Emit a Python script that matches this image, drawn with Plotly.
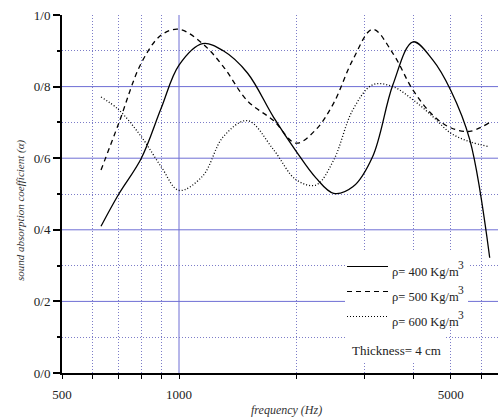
import math
import plotly.graph_objects as go

# ---- data ----
freq = [630, 700, 800, 900, 1000, 1150, 1300, 1500, 1750, 2000, 2250, 2500,
        2800, 3150, 3550, 4000, 4500, 5000, 5600, 6300]
rho400 = [0.41, 0.50, 0.60, 0.74, 0.86, 0.92, 0.90, 0.838, 0.715, 0.62, 0.545, 0.502,
          0.52, 0.605, 0.805, 0.925, 0.874, 0.79, 0.651, 0.322]
rho500 = [0.567, 0.698, 0.866, 0.944, 0.96, 0.92, 0.856, 0.76, 0.705, 0.642, 0.68, 0.754,
          0.875, 0.96, 0.893, 0.79, 0.72, 0.685, 0.675, 0.70]
rho600 = [0.771, 0.735, 0.66, 0.576, 0.51, 0.55, 0.66, 0.705, 0.624, 0.54, 0.525, 0.595,
          0.735, 0.805, 0.80, 0.763, 0.716, 0.67, 0.646, 0.632]

series_names = ["ρ= 400 Kg/m", "ρ= 500 Kg/m", "ρ= 600 Kg/m"]
unit_power = "3"
x_tick_vals = [500, 1000, 5000]
x_tick_text = ["500", "1000", "5000"]
x_minor_vals = [600, 700, 800, 900, 2000, 3000, 4000, 5000, 6000]
y_tick_vals = [0, 0.2, 0.4, 0.6, 0.8, 1.0]
y_tick_text = ["0/0", "0/2", "0/4", "0/6", "0/8", "1/0"]
y_minor_vals = [0.1, 0.3, 0.5, 0.7, 0.9]
y_solid_grid = [0.2, 0.4, 0.6, 0.8]
x_solid_grid = [1000]
thickness_text = "Thickness= 4 cm"
x_title = "frequency (Hz)"
y_title = "sound absorption coefficient (α)"

# ---- styling ----
W, H = 498, 419
L, R, T, B = 62, 0, 15, 46
PW, PH = W - L - R, H - T - B
PX_PER_DECADE = 388.7
x_range = [math.log10(500), math.log10(500) + PW / PX_PER_DECADE]

SOLID_GRID = "#6e6ed4"
DOT_GRID = "#7c7cc8"
DASHES = ["solid", "5px,4px", "1px,2px"]
serif = "Liberation Serif"


def px2paper(px, py):
    return (px - L) / PW, (H - B - py) / PH


fig = go.Figure()
for ys, nm, dash in zip([rho400, rho500, rho600], series_names, DASHES):
    fig.add_trace(go.Scatter(x=freq, y=ys, mode="lines", name=nm + unit_power,
                             line=dict(color="black", width=1.3, dash=dash,
                                       shape="spline", smoothing=1.0),
                             showlegend=False))

shapes = []
for yv in y_solid_grid:
    shapes.append(dict(type="line", xref="paper", yref="y", x0=0, x1=1, y0=yv, y1=yv,
                       line=dict(color=SOLID_GRID, width=1), layer="below"))
for xv in x_solid_grid:
    shapes.append(dict(type="line", xref="x", yref="paper", x0=xv, x1=xv, y0=0, y1=1,
                       line=dict(color=SOLID_GRID, width=1), layer="below"))

# legend boxes
bx0, by0 = px2paper(345, 326)
bx1, by1 = px2paper(468, 250)
shapes.append(dict(type="rect", xref="paper", yref="paper", x0=bx0, x1=bx1, y0=by0, y1=by1,
                   fillcolor="white", line=dict(width=0), layer="above"))
bx0, by0 = px2paper(347, 361)
bx1, by1 = px2paper(445, 326)
shapes.append(dict(type="rect", xref="paper", yref="paper", x0=bx0, x1=bx1, y0=by0, y1=by1,
                   fillcolor="white", line=dict(width=0), layer="above"))

annotations = []
leg_line_y = [266.5, 291.5, 316.5]
leg_text_y = [272, 297, 322]
leg_sup_y = [264.5, 289.5, 314.5]
for ly, ty, sy, nm, dash in zip(leg_line_y, leg_text_y, leg_sup_y, series_names, DASHES):
    x0, y0 = px2paper(347, ly)
    x1, _ = px2paper(388, ly)
    shapes.append(dict(type="line", xref="paper", yref="paper", x0=x0, x1=x1, y0=y0, y1=y0,
                       line=dict(color="black", width=1.2, dash=dash), layer="above"))
    tx, tyy = px2paper(390, ty)
    annotations.append(dict(xref="paper", yref="paper", x=tx, y=tyy, text=nm,
                            showarrow=False, xanchor="left", yanchor="middle",
                            font=dict(family=serif, size=12.5, color="#222")))
    sx, syy = px2paper(456, sy)
    annotations.append(dict(xref="paper", yref="paper", x=sx, y=syy, text=unit_power,
                            showarrow=False, xanchor="left", yanchor="middle",
                            font=dict(family=serif, size=11.5, color="#222")))

tx, tyy = px2paper(396, 350)
annotations.append(dict(xref="paper", yref="paper", x=tx, y=tyy, text=thickness_text,
                        showarrow=False, xanchor="center", yanchor="middle",
                        font=dict(family=serif, size=13, color="#222")))

# axis titles
tx, tyy = px2paper(20, 211)
annotations.append(dict(xref="paper", yref="paper", x=tx, y=tyy,
                        text="<i>" + y_title + "</i>", textangle=-90,
                        showarrow=False, xanchor="center", yanchor="middle",
                        font=dict(family=serif, size=11, color="#333")))
tx, tyy = px2paper(286, 410)
annotations.append(dict(xref="paper", yref="paper", x=tx, y=tyy,
                        text="<i>" + x_title + "</i>", showarrow=False,
                        xanchor="center", yanchor="middle",
                        font=dict(family=serif, size=12, color="#333")))

fig.update_layout(
    width=W, height=H, autosize=False,
    margin=dict(l=L, r=R, t=T, b=B),
    paper_bgcolor="white", plot_bgcolor="white",
    shapes=shapes, annotations=annotations,
    xaxis=dict(type="log", range=x_range, tickvals=x_tick_vals, ticktext=x_tick_text,
               ticks="outside", ticklen=4, tickwidth=1.2, tickcolor="black",
               showline=True, linewidth=2, linecolor="black", showgrid=False,
               zeroline=False, ticklabelstandoff=4,
               tickfont=dict(family=serif, size=13, color="#222"),
               minor=dict(tickvals=x_minor_vals, ticks="outside", ticklen=4,
                          tickwidth=1.2, tickcolor="black", showgrid=True,
                          gridcolor=DOT_GRID, griddash="1px,2px", gridwidth=1)),
    yaxis=dict(range=[0, 1.0], tickvals=y_tick_vals, ticktext=y_tick_text,
               ticks="outside", ticklen=7, tickwidth=2, tickcolor="black",
               showline=True, linewidth=2, linecolor="black", showgrid=False,
               zeroline=False,
               tickfont=dict(family=serif, size=13, color="#222"),
               minor=dict(tickvals=y_minor_vals, ticks="outside", ticklen=3,
                          tickwidth=1.5, tickcolor="black", showgrid=True,
                          gridcolor=DOT_GRID, griddash="1px,2px", gridwidth=1)),
)

fig.write_html("out.html", config={"displayModeBar": False},
               post_script="document.body.style.margin='0';document.body.style.overflow='hidden';")
